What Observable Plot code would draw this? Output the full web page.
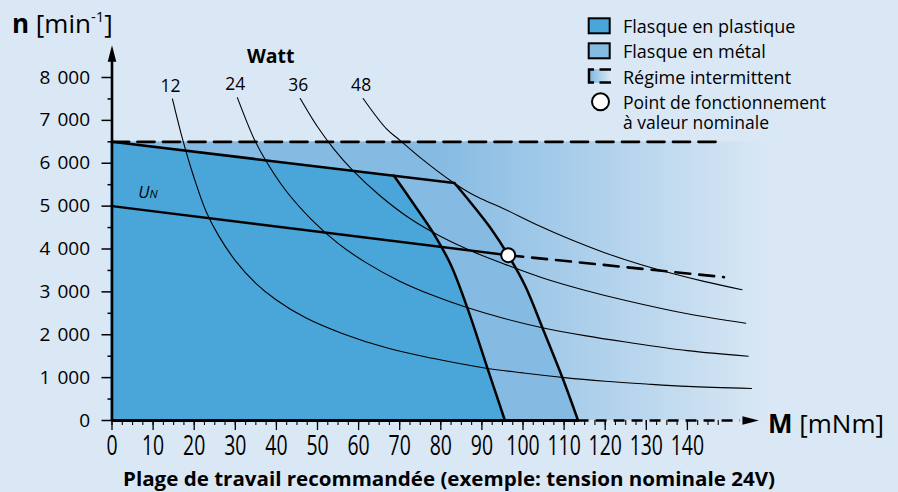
<!DOCTYPE html>
<html><head><meta charset="utf-8">
<script src="https://cdn.jsdelivr.net/npm/d3@7"></script>
<script src="https://cdn.jsdelivr.net/npm/@observablehq/plot@0.6"></script>
<style>
html,body{margin:0;padding:0;background:#DAE8F5;}
#wrap{position:relative;width:898px;height:492px;overflow:hidden;font-family:"Open Sans",sans-serif;}
#wrap > svg{position:absolute;left:0;top:0;}
</style></head><body><div id="wrap"></div>
<script>
// ---------- colours ----------
const COLORS = {bg: "#DAE8F5", plastic: "#4AA5D9", metal: "#85BAE2"};

// ---------- data (M in mNm, n in min-1) ----------
const xTickValues = [0, 10, 20, 30, 40, 50, 60, 70, 80, 90, 100, 110, 120, 130, 140];
const yTickValues = [0, 1000, 2000, 3000, 4000, 5000, 6000, 7000, 8000];
const xMinorTicks = d3.range(0, 150, 2.5);
const yMinorTicks = d3.range(500, 8000, 1000);

const intermittentSpeed = 6500;           // dashed limit (Régime intermittent)
const chartTorqueEnd = 160;               // right end of the intermittent zone
const intermittentLimit = [[0, 6500], [148.9, 6500]];
const speedLimitLine = [[0, 6500], [83.3, 5540]];
const plasticKnee = [68.6, 5710];
const plasticBoundary = [[68.6, 5710], [73.4, 5050], [78.3, 4355], [82.4, 3639], [86.4, 2643], [91.4, 1206], [95.6, 0]];
const metalBoundary = [[83.3, 5540], [87.2, 5092], [92.1, 4490], [96.4, 3856], [100.6, 3126], [104.7, 2169], [109.7, 973], [113.4, 0]];
const unSolid = [[0, 5000], [96.4, 3856]];
const unDashed = [[96.4, 3856], [148.9, 3343]];
const operatingPoint = [96.4, 3856];

const wattLabels = ["12", "24", "36", "48"];
const power12 = [[14.7,7500],[17.2,6550],[20,5650],[23,4850],[26,4300],[30,3730],[35,3200],[40,2810],[47,2400],[56,2030],[67,1690],[78,1450],[91,1220],[100,1110],[110,1000],[120,915],[130,850],[140,795],[155.6,745]];
const power24 = [[30.5,7530],[34.6,6560],[37.3,6080],[42,5400],[48.6,4680],[55,4130],[62,3670],[70,3250],[78,2920],[86.2,2640],[95,2390],[104.4,2170],[115,1980],[125,1830],[140,1630],[154.8,1500]];
const power36 = [[45.8,7510],[50,6850],[54,6330],[58.7,5820],[65,5260],[72.5,4710],[80,4290],[88,3930],[96,3630],[105,3320],[115,3040],[125,2800],[140,2490],[154.2,2270]];
const power48 = [[61.1,7510],[66.8,6800],[70,6540],[75,6130],[83.1,5545],[87.2,5300],[91,5120],[95.3,4940],[103.5,4560],[111.6,4220],[119.7,3920],[127.8,3660],[135.9,3440],[144,3245],[153.3,3050]];
const powerCurves = [power12, power24, power36, power48];

const yAxisEnd = 8400, yArrowTip = 8750;
const xAxisSolidEnd = 113.4, xAxisEnd = 152.9, xArrowTip = 157.4;

// ---------- tables built from the arrays ----------
const pt = ([m, n]) => ({m, n});
const powerRows = powerCurves.flatMap((c, i) => c.map(p => ({...pt(p), watt: wattLabels[i]})));
const wattRows = powerCurves.map((c, i) => ({...pt(c[0]), label: wattLabels[i]}));
const metalLeft = speedLimitLine.map(pt);
const plasticLeft = [speedLimitLine[0], plasticKnee].map(pt);
const fmt = d3.formatLocale({decimal: ",", thousands: " ", grouping: [3]}).format(",");

const arrowSymbol = {draw(ctx) { ctx.moveTo(0, 0); ctx.lineTo(4.3, 16.5); ctx.lineTo(-4.3, 16.5); ctx.closePath(); }};
const thick = {stroke: "black", strokeWidth: 2.5, strokeLinejoin: "miter"};
const smooth = "catmull-rom";

const plot = Plot.plot({
  width: 898, height: 492,
  marginLeft: 111.5, marginRight: 128.9, marginTop: 77, marginBottom: 72,
  style: {background: "transparent", fontFamily: "'Open Sans', sans-serif", color: "black", overflow: "visible"},
  x: {domain: [0, chartTorqueEnd]},
  y: {domain: [0, 8000]},
  marks: [
    Plot.rect([{m0: 0, m1: chartTorqueEnd, n0: 0, n1: intermittentSpeed}], {x1: "m0", x2: "m1", y1: "n0", y2: "n1", fill: "url(#intermittentGrad)"}),
    // metal flange zone
    Plot.areaY(metalLeft, {x: "m", y: "n", fill: COLORS.metal, stroke: COLORS.metal, strokeWidth: 1}),
    Plot.areaY(metalBoundary.map(pt), {x: "m", y: "n", fill: COLORS.metal, curve: smooth}),
    // plastic flange zone
    Plot.areaY(plasticLeft, {x: "m", y: "n", fill: COLORS.plastic, stroke: COLORS.plastic, strokeWidth: 1}),
    Plot.areaY(plasticBoundary.map(pt), {x: "m", y: "n", fill: COLORS.plastic, curve: smooth}),
    Plot.line(intermittentLimit.map(pt), {x: "m", y: "n", stroke: "black", strokeWidth: 2.8, strokeDasharray: "17,8.5"}),
    Plot.line(powerRows, {x: "m", y: "n", z: "watt", stroke: "black", strokeWidth: 1.1, curve: smooth}),
    Plot.line(speedLimitLine.map(pt), {x: "m", y: "n", ...thick}),
    Plot.line(plasticBoundary.map(pt), {x: "m", y: "n", ...thick, curve: smooth}),
    Plot.line(metalBoundary.map(pt), {x: "m", y: "n", ...thick, curve: smooth}),
    Plot.line(unSolid.map(pt), {x: "m", y: "n", ...thick}),
    Plot.line(unDashed.map(pt), {x: "m", y: "n", stroke: "black", strokeWidth: 2.6, strokeDasharray: "15,9"}),
    Plot.axisY(yTickValues, {tickSize: 10, tickPadding: 12, fontSize: 19, tickFormat: fmt, strokeWidth: 1.5, label: null}),
    Plot.axisY(yMinorTicks, {tickSize: 4, tickFormat: () => "", strokeWidth: 1.5, label: null}),
    Plot.axisX(xTickValues, {tickSize: 10, tickPadding: 5, fontSize: 27, strokeWidth: 1.3, label: null}),
    Plot.axisX(xMinorTicks, {tickSize: 5, tickFormat: () => "", strokeWidth: 1.1, label: null}),
    Plot.ruleX([0], {y1: 0, y2: yAxisEnd, stroke: "black", strokeWidth: 2.6}),
    Plot.ruleY([0], {x1: 0, x2: xAxisSolidEnd, stroke: "black", strokeWidth: 2.8}),
    Plot.ruleY([0], {x1: xAxisSolidEnd, x2: xAxisEnd, stroke: "black", strokeWidth: 2.4, strokeDasharray: "11,7"}),
    Plot.dot([{m: 0, n: yArrowTip}], {x: "m", y: "n", symbol: arrowSymbol, fill: "black", stroke: "none", r: 5}),
    Plot.dot([{m: xArrowTip, n: 0}], {x: "m", y: "n", symbol: arrowSymbol, rotate: 90, fill: "black", stroke: "none", r: 5}),
    Plot.dot([pt(operatingPoint)], {x: "m", y: "n", r: 7, fill: "white", stroke: "black", strokeWidth: 2}),
    Plot.text(wattRows, {x: "m", y: "n", text: "label", dx: -2, dy: -7.3, lineAnchor: "bottom", fontSize: 17.5, fill: "black"})
  ]
});

// gradient for the intermittent zone
const xs = plot.scale("x");
const NS = "http://www.w3.org/2000/svg";
const defs = document.createElementNS(NS, "defs");
defs.innerHTML = `<linearGradient id="intermittentGrad" gradientUnits="userSpaceOnUse" x1="${xs.apply(78)}" x2="${xs.apply(chartTorqueEnd)}" y1="0" y2="0"><stop offset="0" stop-color="${COLORS.metal}"/><stop offset="1" stop-color="${COLORS.bg}"/></linearGradient>`;
plot.prepend(defs);
document.getElementById("wrap").appendChild(plot);

// condensed x tick labels, wider thousands gap on y labels
plot.querySelectorAll('g[aria-label="x-axis tick label"] text').forEach(t => {
  t.setAttribute("transform", (t.getAttribute("transform") || "") + " scale(0.72,1)");
});
plot.querySelectorAll('g[aria-label="y-axis tick label"]').forEach(g => g.style.wordSpacing = "2px");

// ---------- overlay texts & legend ----------
const legendLabels = ["Flasque en plastique", "Flasque en métal", "Régime intermittent", "Point de fonctionnement", "à valeur nominale"];
const title = "Plage de travail recommandée (exemple: tension nominale 24V)";
const ov = `
<svg xmlns="${NS}" width="898" height="492" style="font-family:'Open Sans',sans-serif">
<defs><linearGradient id="legGrad" x1="0" x2="1"><stop offset="0" stop-color="${COLORS.metal}"/><stop offset="1" stop-color="${COLORS.bg}"/></linearGradient></defs>
<text x="12" y="33" font-size="26" fill="black"><tspan font-weight="bold">n</tspan> [min<tspan font-size="15" dy="-11">-1</tspan><tspan dy="11">]</tspan></text>
<text x="768" y="433" font-size="26" fill="black"><tspan font-weight="bold">M</tspan> [mNm]</text>
<text x="270.7" y="63.3" font-size="19.5" font-weight="bold" text-anchor="middle" fill="black">Watt</text>
<text x="138.3" y="198.3" font-size="16.5" font-style="italic" fill="black">U<tspan font-size="11.5">N</tspan></text>
<text x="449" y="486" font-size="20" font-weight="bold" text-anchor="middle" textLength="652" lengthAdjust="spacingAndGlyphs" fill="black">${title}</text>
<rect x="588.7" y="18.3" width="21" height="15" fill="${COLORS.plastic}" stroke="black" stroke-width="2"/>
<rect x="588.7" y="43.3" width="21" height="15" fill="${COLORS.metal}" stroke="black" stroke-width="2"/>
<rect x="590" y="69" width="21" height="14" fill="url(#legGrad)"/>
<path d="M594,69.5 H589 V82.5 H594" fill="none" stroke="black" stroke-width="2.5"/>
<path d="M599.5,69.5 H611 M599.5,82.5 H611" fill="none" stroke="black" stroke-width="2.5"/>
<circle cx="600.5" cy="101.7" r="8.5" fill="white" stroke="black" stroke-width="2"/>
<g font-size="18" fill="black">
<text x="623" y="33">${legendLabels[0]}</text>
<text x="623" y="58">${legendLabels[1]}</text>
<text x="623" y="83.5">${legendLabels[2]}</text>
<text x="623" y="108.5" font-size="17.5"><tspan x="623">${legendLabels[3]}</tspan><tspan x="623" dy="20">${legendLabels[4]}</tspan></text>
</g>
</svg>`;
document.getElementById("wrap").insertAdjacentHTML("beforeend", ov);
</script>
</body></html>
